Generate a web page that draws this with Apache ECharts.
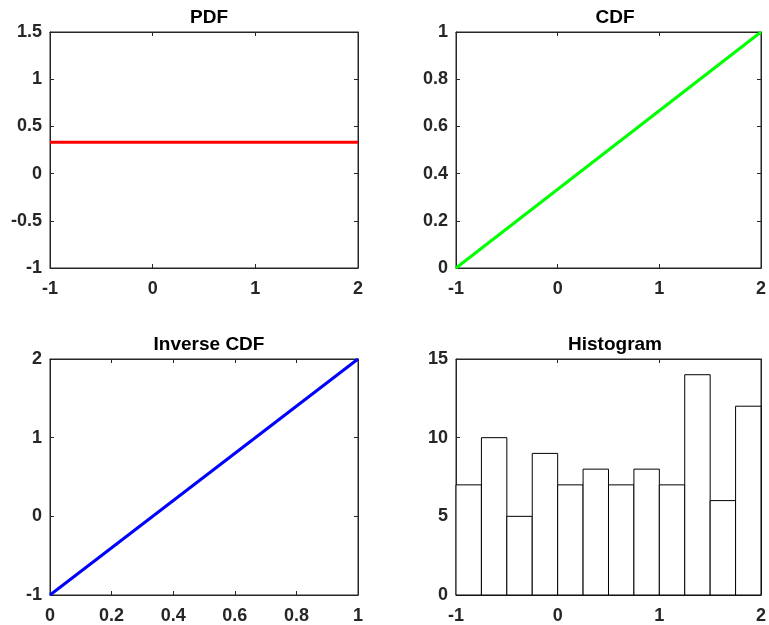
<!DOCTYPE html>
<html>
<head>
<meta charset="utf-8">
<script src="https://cdn.jsdelivr.net/npm/echarts@6/dist/echarts.min.js"></script>
<style>
  html, body { margin: 0; padding: 0; background: #fff; }
  #chart { width: 769px; height: 625px; }
</style>
</head>
<body>
<div id="chart"></div>
<script>
// Uniform distribution on [-1, 2]
const pdfX = [-1, 2];
const pdfY = [0.3333, 0.3333];
const cdfX = [-1, 2];
const cdfY = [0, 1];
const invP = [0, 1];
const invX = [-1, 2];
// Histogram of 100 samples, 12 bins of width 0.25
const histEdges = [-1, -0.75, -0.5, -0.25, 0, 0.25, 0.5, 0.75, 1, 1.25, 1.5, 1.75, 2];
const histCounts = [7, 10, 5, 9, 7, 8, 7, 8, 7, 14, 6, 12];

const titles = ['PDF', 'CDF', 'Inverse CDF', 'Histogram'];

const FONT = '"Liberation Sans", Arial, sans-serif';
const AX = '#262626';

const panels = [
  { left: 50,  top: 32,  width: 308, height: 236, x: [-1, 2, 1],  y: [-1, 1.5, 0.5] },
  { left: 456, top: 32,  width: 308, height: 236, x: [-1, 2, 1],  y: [0, 1, 0.2] },
  { left: 50,  top: 359, width: 308, height: 236, x: [0, 1, 0.2], y: [-1, 2, 1] },
  { left: 456, top: 359, width: 308, height: 236, x: [-1, 2, 1],  y: [0, 15, 5] }
];

const grid = [], xAxis = [], yAxis = [], title = [];

panels.forEach((p, i) => {
  grid.push({
    left: p.left, top: p.top, width: p.width, height: p.height,
    show: true, borderColor: AX, borderWidth: 1, backgroundColor: '#fff'
  });
  title.push({
    text: titles[i],
    left: p.left + p.width / 2,
    top: p.top - 29,
    textAlign: 'center',
    textStyle: { fontFamily: FONT, fontWeight: 'bold', fontSize: 19, color: '#000' }
  });
  const common = (r) => ({
    type: 'value', gridIndex: i, min: r[0], max: r[1], interval: r[2],
    splitLine: { show: false },
    axisLine: { show: true, onZero: false, lineStyle: { color: AX, width: 1 } },
    axisTick: { show: true, inside: true, length: 4, lineStyle: { color: AX } }
  });
  xAxis.push(Object.assign(common(p.x), {
    position: 'bottom',
    axisLabel: { show: true, margin: 12, color: AX, fontFamily: FONT, fontWeight: 'bold', fontSize: 18 }
  }));
  xAxis.push(Object.assign(common(p.x), { position: 'top', axisLabel: { show: false } }));
  yAxis.push(Object.assign(common(p.y), {
    position: 'left',
    axisLabel: { show: true, margin: 8, color: AX, fontFamily: FONT, fontWeight: 'bold', fontSize: 18 }
  }));
  yAxis.push(Object.assign(common(p.y), { position: 'right', axisLabel: { show: false } }));
});

const zip = (a, b) => a.map((v, k) => [v, b[k]]);

const histData = histCounts.map((c, k) => [histEdges[k], histEdges[k + 1], c]);

const series = [
  { type: 'line', xAxisIndex: 0, yAxisIndex: 0, data: zip(pdfX, pdfY), showSymbol: false,
    lineStyle: { color: '#ff0000', width: 3 }, silent: true },
  { type: 'line', xAxisIndex: 2, yAxisIndex: 2, data: zip(cdfX, cdfY), showSymbol: false,
    lineStyle: { color: '#00ff00', width: 3 }, silent: true },
  { type: 'line', xAxisIndex: 4, yAxisIndex: 4, data: zip(invP, invX), showSymbol: false,
    lineStyle: { color: '#0000ff', width: 3 }, silent: true },
  {
    type: 'custom', xAxisIndex: 6, yAxisIndex: 6, data: histData, silent: true,
    encode: { x: [0, 1], y: 2 },
    renderItem: function (params, api) {
      const p0 = api.coord([api.value(0), 0]);
      const p1 = api.coord([api.value(1), api.value(2)]);
      return {
        type: 'rect',
        shape: { x: p0[0], y: p1[1], width: p1[0] - p0[0], height: p0[1] - p1[1] },
        style: { fill: '#fff', stroke: '#000', lineWidth: 1 }
      };
    }
  }
];

const chart = echarts.init(document.getElementById('chart'), null, { renderer: 'canvas' });
chart.setOption({ animation: false, backgroundColor: '#fff', title, grid, xAxis, yAxis, series });
</script>
</body>
</html>
